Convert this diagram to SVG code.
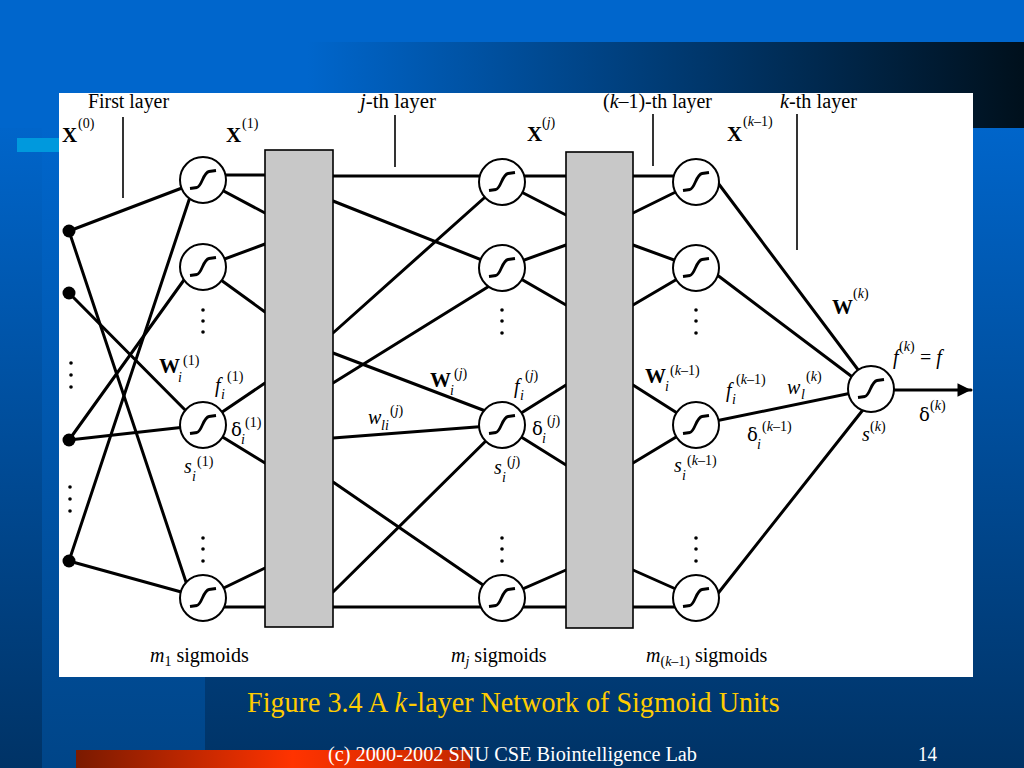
<svg xmlns="http://www.w3.org/2000/svg" xmlns:xlink="http://www.w3.org/1999/xlink" width="1024" height="768" viewBox="0 0 1024 768">
<defs>
<linearGradient id="bgV" x1="0" y1="0" x2="0" y2="1">
<stop offset="0" stop-color="#0066cc"/><stop offset="0.15" stop-color="#0066cc"/><stop offset="1" stop-color="#003366"/>
</linearGradient>
<linearGradient id="bandH" x1="0" y1="0" x2="1" y2="0">
<stop offset="0" stop-color="#0066cc"/><stop offset="0.3" stop-color="#0066cc"/><stop offset="1" stop-color="#00101c"/>
</linearGradient>
<linearGradient id="colV" x1="0" y1="0" x2="0" y2="1">
<stop offset="0" stop-color="#0066cc"/><stop offset="1" stop-color="#004588"/>
</linearGradient>
<linearGradient id="orange" x1="0" y1="0" x2="1" y2="0">
<stop offset="0" stop-color="#7a1a00"/><stop offset="0.55" stop-color="#ff3300"/><stop offset="1" stop-color="#c42800"/>
</linearGradient>
<g id="sig">
<circle r="23" fill="#fff" stroke="#000" stroke-width="2"/>
<path d="M-13,8.5 L-6,7.5 C-1,6.5 0,-7.5 6,-8.5 L13,-9.5" fill="none" stroke="#000" stroke-width="2.8"/>
</g>
<marker id="arr" viewBox="0 0 10 10" refX="10" refY="5" markerWidth="5" markerHeight="4.5" orient="auto" markerUnits="strokeWidth">
<path d="M0,0 L10,5 L0,10 Z" fill="#000"/>
</marker>
<style>
text{font-family:"Liberation Serif","Times New Roman",serif;fill:#000}
.lbl{font-size:20px}
.b{font-weight:bold;font-size:21px}
.sm{font-size:14px}
.it{font-style:italic}
.gr{font-family:"DejaVu Serif",serif;font-size:18px}
.cap{font-size:29px;fill:#ffcc00}
.foot{font-size:20px;fill:#ffffff}
.con line{stroke:#000;stroke-width:3;stroke-linecap:round}
.tick{stroke:#000;stroke-width:1.6}
.box{fill:#c8c8c8;stroke:#000;stroke-width:1.6}
.dd{fill:#000}
</style>
</defs>

<!-- background -->
<rect x="0" y="0" width="1024" height="768" fill="url(#bgV)"/>
<rect x="0" y="0" width="1024" height="42" fill="#0066cc"/>
<rect x="0" y="42" width="1024" height="86" fill="url(#bandH)"/>
<rect x="42" y="128" width="163" height="640" fill="url(#colV)"/>
<rect x="17" y="138" width="42" height="14" fill="#0099dd"/>
<rect x="76" y="750" width="394" height="18" fill="url(#orange)"/>

<!-- panel -->
<rect x="59" y="93" width="914" height="584" fill="#ffffff"/>

<!-- layer ticks -->
<g id="ticks">
<line class="tick" x1="123" y1="117" x2="123" y2="198"/>
<line class="tick" x1="395" y1="115" x2="395" y2="167"/>
<line class="tick" x1="653" y1="114" x2="653" y2="166"/>
<line class="tick" x1="797" y1="114" x2="797" y2="250"/>
</g>

<!-- connectors -->
<g id="connectors" class="con">
<line x1="69" y1="231" x2="203" y2="180"/>
<line x1="69" y1="231" x2="191" y2="597"/>
<line x1="69" y1="293" x2="197" y2="422"/>
<line x1="69" y1="440" x2="194" y2="266"/>
<line x1="69" y1="440" x2="203" y2="425"/>
<line x1="69" y1="561" x2="195" y2="182"/>
<line x1="69" y1="561" x2="203" y2="598"/>
<line x1="203" y1="175" x2="265" y2="175"/>
<line x1="203" y1="180" x2="265" y2="213"/>
<line x1="203" y1="267" x2="265" y2="244"/>
<line x1="203" y1="267" x2="265" y2="312"/>
<line x1="203" y1="425" x2="265" y2="383"/>
<line x1="203" y1="425" x2="265" y2="463"/>
<line x1="203" y1="598" x2="265" y2="568"/>
<line x1="203" y1="607" x2="265" y2="607"/>
<line x1="333" y1="176" x2="502" y2="176"/>
<line x1="333" y1="201" x2="502" y2="268"/>
<line x1="333" y1="333" x2="502" y2="182"/>
<line x1="333" y1="353" x2="496" y2="415"/>
<line x1="333" y1="383" x2="491" y2="285"/>
<line x1="333" y1="438" x2="502" y2="425"/>
<line x1="333" y1="482" x2="502" y2="598"/>
<line x1="333" y1="592" x2="502" y2="425"/>
<line x1="333" y1="607" x2="502" y2="607"/>
<line x1="502" y1="176" x2="566" y2="176"/>
<line x1="502" y1="182" x2="566" y2="215"/>
<line x1="502" y1="268" x2="566" y2="245"/>
<line x1="502" y1="268" x2="566" y2="305"/>
<line x1="502" y1="425" x2="566" y2="385"/>
<line x1="502" y1="425" x2="566" y2="465"/>
<line x1="502" y1="598" x2="566" y2="570"/>
<line x1="502" y1="607" x2="566" y2="607"/>
<line x1="633" y1="176" x2="696" y2="176"/>
<line x1="633" y1="213" x2="696" y2="182"/>
<line x1="633" y1="245" x2="696" y2="268"/>
<line x1="633" y1="305" x2="696" y2="268"/>
<line x1="633" y1="385" x2="696" y2="425"/>
<line x1="633" y1="463" x2="696" y2="425"/>
<line x1="633" y1="570" x2="696" y2="598"/>
<line x1="633" y1="607" x2="696" y2="607"/>
<line x1="712" y1="175" x2="862" y2="375"/>
<line x1="704" y1="265" x2="859" y2="382"/>
<line x1="696" y1="425" x2="871" y2="389"/>
<line x1="712" y1="601" x2="866" y2="406"/>
<line x1="871" y1="390" x2="971" y2="390" marker-end="url(#arr)"/>
</g>

<!-- boxes -->
<g id="box1"><rect class="box" x="265" y="150" width="68" height="477"/></g>
<g id="box2"><rect class="box" x="566" y="152" width="67" height="476"/></g>

<!-- input nodes -->
<g id="in1"><circle cx="69" cy="231" r="6.5" fill="#000"/></g>
<g id="in2"><circle cx="69" cy="293" r="6.5" fill="#000"/></g>
<g id="in3"><circle cx="69" cy="440" r="6.5" fill="#000"/></g>
<g id="in4"><circle cx="69" cy="561" r="6.5" fill="#000"/></g>
<g id="in-dots">
<circle class="dd" cx="71" cy="363" r="1.8"/><circle class="dd" cx="71" cy="375" r="1.8"/><circle class="dd" cx="71" cy="387" r="1.8"/>
<circle class="dd" cx="70" cy="487" r="1.8"/><circle class="dd" cx="70" cy="499" r="1.8"/><circle class="dd" cx="70" cy="511" r="1.8"/>
</g>

<g id="a1"><use xlink:href="#sig" href="#sig" x="203" y="180"/></g>
<g id="a2"><use xlink:href="#sig" href="#sig" x="203" y="267"/></g>
<g id="a3"><use xlink:href="#sig" href="#sig" x="203" y="425"/></g>
<g id="a4"><use xlink:href="#sig" href="#sig" x="203" y="598"/></g>
<g id="j1"><use xlink:href="#sig" href="#sig" x="502" y="182"/></g>
<g id="j2"><use xlink:href="#sig" href="#sig" x="502" y="268"/></g>
<g id="j3"><use xlink:href="#sig" href="#sig" x="502" y="425"/></g>
<g id="j4"><use xlink:href="#sig" href="#sig" x="502" y="598"/></g>
<g id="k1"><use xlink:href="#sig" href="#sig" x="696" y="182"/></g>
<g id="k2"><use xlink:href="#sig" href="#sig" x="696" y="268"/></g>
<g id="k3"><use xlink:href="#sig" href="#sig" x="696" y="425"/></g>
<g id="k4"><use xlink:href="#sig" href="#sig" x="696" y="598"/></g>
<g id="out"><use xlink:href="#sig" href="#sig" x="871" y="389"/></g>

<g id="layer-dots">
<circle class="dd" cx="203" cy="310" r="1.8"/><circle class="dd" cx="203" cy="321" r="1.8"/><circle class="dd" cx="203" cy="332" r="1.8"/>
<circle class="dd" cx="203" cy="538" r="1.8"/><circle class="dd" cx="203" cy="549" r="1.8"/><circle class="dd" cx="203" cy="561" r="1.8"/>
<circle class="dd" cx="502" cy="310" r="1.8"/><circle class="dd" cx="502" cy="321" r="1.8"/><circle class="dd" cx="502" cy="333" r="1.8"/>
<circle class="dd" cx="502" cy="538" r="1.8"/><circle class="dd" cx="502" cy="549" r="1.8"/><circle class="dd" cx="502" cy="561" r="1.8"/>
<circle class="dd" cx="696" cy="310" r="1.8"/><circle class="dd" cx="696" cy="321" r="1.8"/><circle class="dd" cx="696" cy="333" r="1.8"/>
<circle class="dd" cx="696" cy="538" r="1.8"/><circle class="dd" cx="696" cy="549" r="1.8"/><circle class="dd" cx="696" cy="561" r="1.8"/>
</g>

<g id="labels">
<text class="lbl" x="88" y="108" textLength="81" lengthAdjust="spacingAndGlyphs">First layer</text>
<text class="lbl" x="360" y="108" textLength="76" lengthAdjust="spacingAndGlyphs"><tspan class="it">j</tspan>-th layer</text>
<text class="lbl" x="603" y="108" textLength="109" lengthAdjust="spacingAndGlyphs">(<tspan class="it">k</tspan>–1)-th layer</text>
<text class="lbl" x="780" y="108" textLength="77" lengthAdjust="spacingAndGlyphs"><tspan class="it">k</tspan>-th layer</text>

<text class="b" x="62" y="142">X</text><text class="sm" x="78" y="128">(0)</text>
<text class="b" x="226" y="142">X</text><text class="sm" x="242" y="128">(1)</text>
<text class="b" x="527" y="141">X</text><text class="sm" x="542" y="127">(<tspan class="it">j</tspan>)</text>
<text class="b" x="727" y="141">X</text><text class="sm" x="743" y="126">(<tspan class="it">k</tspan>–1)</text>

<text class="b" x="832" y="314">W</text><text class="sm" x="853" y="298">(<tspan class="it">k</tspan>)</text>
<text class="lbl it" x="893" y="364">f</text><text class="sm" x="899" y="351">(<tspan class="it">k</tspan>)</text><text class="lbl" x="920" y="364">= <tspan class="it">f</tspan></text>
<text class="gr" x="919" y="421">δ</text><text class="sm" x="930" y="410">(<tspan class="it">k</tspan>)</text>
<text class="lbl it" x="862" y="441">s</text><text class="sm" x="870" y="431">(<tspan class="it">k</tspan>)</text>

<text class="b" x="159" y="373">W</text><text class="sm it" x="178" y="382">i</text><text class="sm" x="183" y="365">(1)</text>
<text class="lbl it" x="215" y="392">f</text><text class="sm it" x="221" y="399">i</text><text class="sm" x="227" y="381">(1)</text>
<text class="gr" x="231" y="436">δ</text><text class="sm it" x="241" y="444">i</text><text class="sm" x="245" y="427">(1)</text>
<text class="lbl it" x="184" y="473">s</text><text class="sm it" x="192" y="481">i</text><text class="sm" x="197" y="466">(1)</text>

<text class="lbl it" x="368" y="424">w</text><text class="sm it" x="381" y="430">li</text><text class="sm" x="390" y="415">(<tspan class="it">j</tspan>)</text>
<text class="b" x="430" y="387">W</text><text class="sm it" x="450" y="395">i</text><text class="sm" x="454" y="378">(<tspan class="it">j</tspan>)</text>
<text class="lbl it" x="514" y="393">f</text><text class="sm it" x="520" y="400">i</text><text class="sm" x="525" y="380">(<tspan class="it">j</tspan>)</text>
<text class="gr" x="532" y="435">δ</text><text class="sm it" x="542" y="443">i</text><text class="sm" x="547" y="425">(<tspan class="it">j</tspan>)</text>
<text class="lbl it" x="494" y="474">s</text><text class="sm it" x="502" y="482">i</text><text class="sm" x="507" y="466">(<tspan class="it">j</tspan>)</text>

<text class="b" x="645" y="383">W</text><text class="sm it" x="665" y="391">i</text><text class="sm" x="670" y="375">(<tspan class="it">k</tspan>–1)</text>
<text class="lbl it" x="726" y="397">f</text><text class="sm it" x="732" y="404">i</text><text class="sm" x="736" y="384">(<tspan class="it">k</tspan>–1)</text>
<text class="lbl it" x="787" y="394">w</text><text class="sm it" x="801" y="399">l</text><text class="sm" x="806" y="381">(<tspan class="it">k</tspan>)</text>
<text class="gr" x="747" y="441">δ</text><text class="sm it" x="757" y="449">i</text><text class="sm" x="762" y="431">(<tspan class="it">k</tspan>–1)</text>
<text class="lbl it" x="674" y="472">s</text><text class="sm it" x="682" y="480">i</text><text class="sm" x="687" y="465">(<tspan class="it">k</tspan>–1)</text>

<text class="lbl" x="150" y="662"><tspan class="it">m</tspan><tspan class="sm" dy="4">1</tspan><tspan dy="-4"> sigmoids</tspan></text>
<text class="lbl" x="451" y="662"><tspan class="it">m</tspan><tspan class="sm it" dy="4">j</tspan><tspan dy="-4"> sigmoids</tspan></text>
<text class="lbl" x="646" y="662"><tspan class="it">m</tspan><tspan class="sm" dy="4">(<tspan class="it">k</tspan>–1)</tspan><tspan dy="-4"> sigmoids</tspan></text>
</g>

<g id="caption" transform="translate(247,712) scale(0.97,1)">
<text class="cap" x="0" y="0">Figure 3.4 A</text>
<text class="cap it" x="152" y="0">k</text>
<text class="cap" x="166" y="0">-layer Network of Sigmoid Units</text>
</g>
<text class="foot" x="328" y="761" textLength="369" lengthAdjust="spacingAndGlyphs">(c) 2000-2002 SNU CSE  Biointelligence Lab</text>
<text class="foot" x="918" y="761" textLength="19" lengthAdjust="spacingAndGlyphs">14</text>
</svg>
